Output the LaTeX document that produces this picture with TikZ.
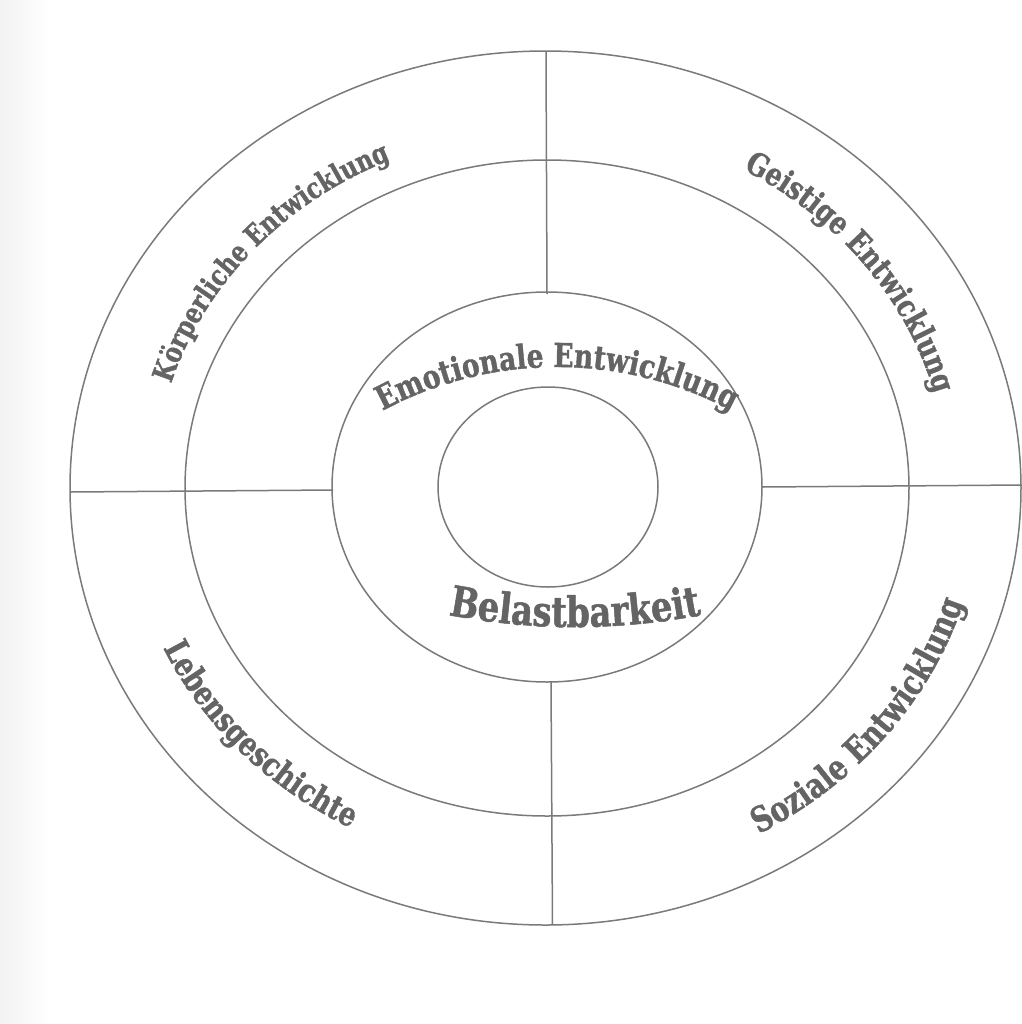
\documentclass[tikz,border=0pt]{standalone}
\usepackage{fontspec}
\usetikzlibrary{decorations.text}
\newfontfamily\labfam{DejaVu Serif}[FakeStretch=0.8,FakeBold=1.2]
\newcommand\labsize[1]{\labfam\bfseries\fontsize{#1}{#1}\selectfont}
\definecolor{linegray}{HTML}{7A7A7A}
\definecolor{txtgray}{HTML}{646464}
\tikzset{
  ring/.style={draw=linegray, line width=0.75pt},
  divider/.style={draw=linegray, line width=0.75pt},
  ringlabel/.style 2 args={decorate, decoration={text along path, text align=center,
      text color=txtgray, text={|\labsize{#1}|#2}}}
}
\begin{document}
\begin{tikzpicture}[x=0.5pt,y=0.5pt]
\useasboundingbox (0,0) rectangle (1022,-1024);
\fill[white] (0,0) rectangle (1022,-1024);
\shade[left color=black!5, right color=white] (0,0) rectangle (50,-1024);

% centres
\coordinate (c) at (547,-488);
\coordinate (c0) at (545.5,-488);

% rings
\draw[ring] (c0) ellipse [x radius=475.5, y radius=437];
\draw[ring] (547,-488) ellipse [x radius=362, y radius=328];
\draw[ring] (547,-487) ellipse [x radius=215, y radius=195];
\draw[ring] (548,-487) ellipse [x radius=110, y radius=100];

% dividers
\coordinate (lo) at (70,-492);   \coordinate (li) at (333,-490);
\coordinate (ri) at (762,-487);  \coordinate (ro) at (1022,-485);
\coordinate (to) at (546,-52);   \coordinate (ti) at (547,-294);
\coordinate (bi) at (551,-682);  \coordinate (bo) at (552.5,-925);
\draw[divider] (lo) -- (li);
\draw[divider] (ri) -- (ro);
\draw[divider] (to) -- (ti);
\draw[divider] (bi) -- (bo);

% labels on the outer ring
\path[ringlabel={14.4}{Körperliche Entwicklung}]
  (c) ++(181:393 and 357.6) arc[start angle=181, end angle=97, x radius=393, y radius=357.6];
\path[ringlabel={15.8}{Geistige Entwicklung}]
  (c) ++(80:401 and 365) arc[start angle=80, end angle=-6, x radius=401, y radius=365];
\path[ringlabel={17.4}{Soziale Entwicklung}]
  (c) ++(-81:435 and 396) arc[start angle=-81, end angle=5, x radius=435, y radius=396];
\path[ringlabel={16.5}{Lebensgeschichte}]
  (c) ++(180.5:422 and 384) arc[start angle=180.5, end angle=264.5, x radius=422, y radius=384];

% labels on the inner ring
\path[ringlabel={16.5}{Emotionale Entwicklung}]
  (557,-736) ++(130:369) arc[start angle=130, end angle=50, radius=369];
\path[ringlabel={21}{Belastbarkeit}]
  (575,43) ++(248:670) arc[start angle=248, end angle=292, radius=670];
\end{tikzpicture}
\end{document}
